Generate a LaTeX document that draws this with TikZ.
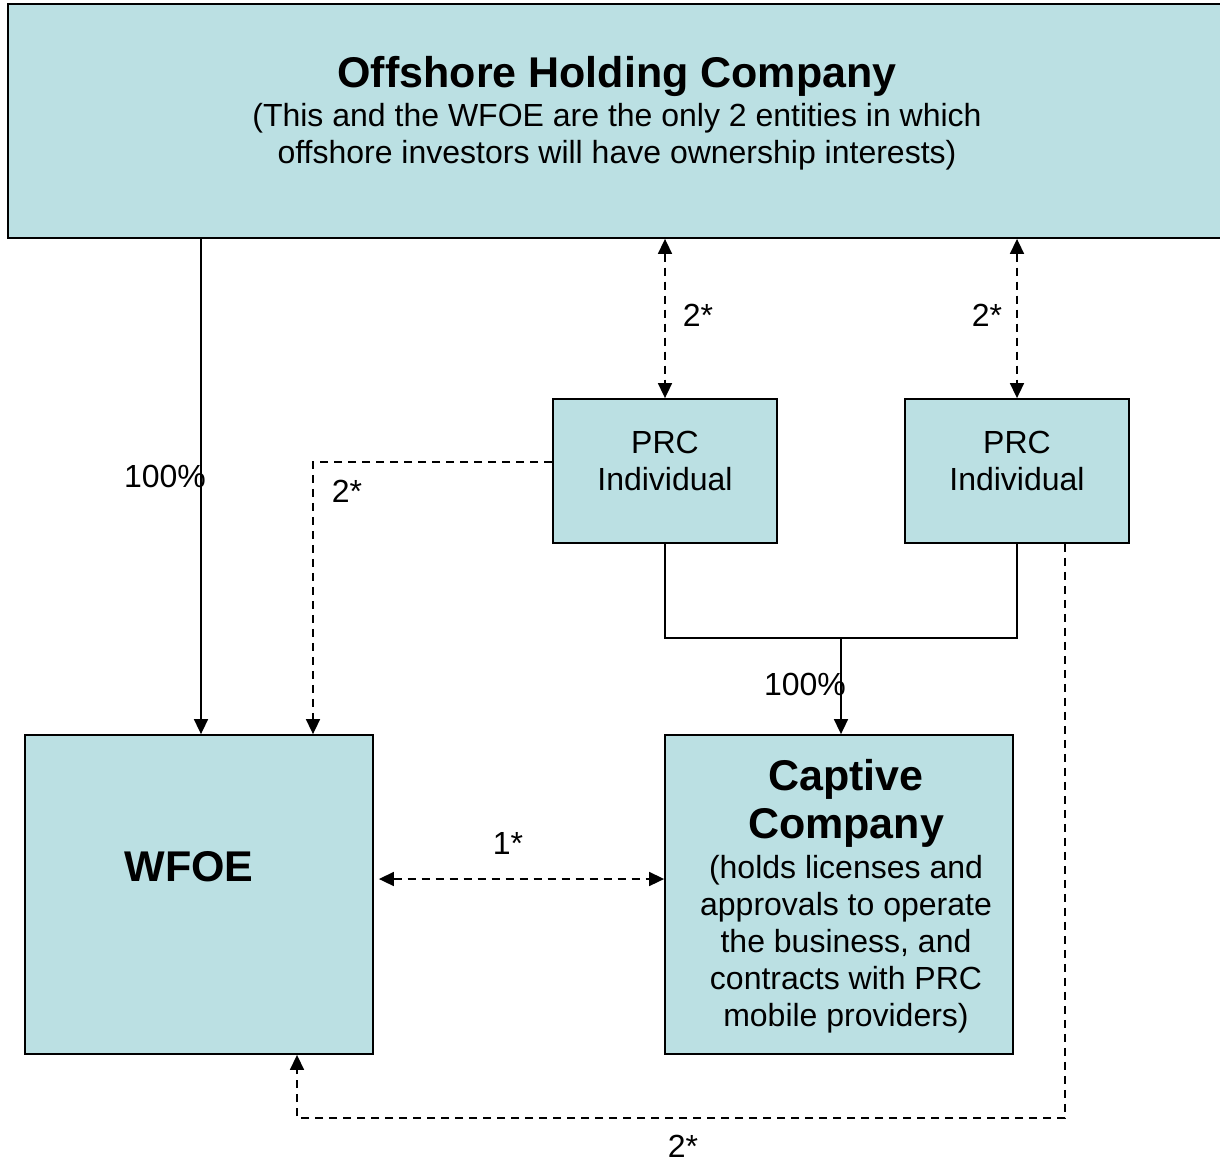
\documentclass[tikz,border=0pt]{standalone}
\usepackage{fontspec}
\setmainfont{Liberation Sans}
\usetikzlibrary{arrows.meta}
\definecolor{boxfill}{RGB}{187,224,227}
\tikzset{
  entity/.style={draw=black, fill=boxfill, line width=1.8pt, rectangle, inner sep=0pt},
  txt/.style={inner sep=0pt, align=center, font=\fontsize{32}{37}\selectfont},
  bigtxt/.style={inner sep=0pt, align=center, font=\fontsize{43}{48}\selectfont\bfseries},
  lbl/.style={inner sep=0pt, anchor=base, font=\fontsize{32}{37}\selectfont},
  solidarrow/.style={line width=1.6pt, -{Triangle[length=15pt,width=14pt]}},
  solidline/.style={line width=1.6pt},
  dashline/.style={line width=1.6pt, dash pattern=on 8pt off 6pt},
  dasharrow/.style={dashline, -{Triangle[length=15pt,width=14pt]}},
  dashboth/.style={dashline, {Triangle[length=15pt,width=14pt]}-{Triangle[length=15pt,width=14pt]}}
}
\begin{document}
\begin{tikzpicture}[x=1pt,y=-1pt]
\useasboundingbox (0,0) rectangle (1220,1163);
% boxes
\node[entity, minimum width=1214pt, minimum height=234pt] (top) at (615,121) {};
\node[entity, minimum width=224pt, minimum height=144pt] (prc1) at (665,471) {};
\node[entity, minimum width=224pt, minimum height=144pt] (prc2) at (1017,471) {};
\node[entity, minimum width=348pt, minimum height=319pt] (wfoe) at (199,894.5) {};
\node[entity, minimum width=348pt, minimum height=319pt] (cap) at (839,894.5) {};
% texts
\node[bigtxt, anchor=base] (toptitle) at (617,87) {Offshore Holding Company};
\node[txt, anchor=north] (topsub) at (617,103) {(This and the WFOE are the only 2 entities in which\\offshore investors will have ownership interests)};
\node[txt, anchor=north] (prc1t) at (665,431) {PRC\\Individual};
\node[txt, anchor=north] (prc2t) at (1017,431) {PRC\\Individual};
\node[bigtxt, anchor=base] (wfoet) at (189,881) {WFOE};
\node[bigtxt, anchor=north] (capt) at (846,759) {Captive\\Company};
\node[txt, anchor=north] (capsub) at (846,855) {(holds licenses and\\approvals to operate\\the business, and\\contracts with PRC\\mobile providers)};
% helper coordinates
\coordinate (x1) at (201,0);
\coordinate (c1) at (313,462);
\coordinate (c2) at (841,638);
\coordinate (c3) at (500,879);
\coordinate (c4) at (1065,1118);
\coordinate (c5) at (297,1118);
% connectors
\draw[solidarrow] (x1 |- top.south) -- (x1 |- wfoe.north);
\draw[dasharrow] (prc1.west |- c1) -- (c1) -- (c1 |- wfoe.north);
\draw[dashboth] (prc1.north |- top.south) -- (prc1.north);
\draw[dashboth] (prc2.north |- top.south) -- (prc2.north);
\draw[solidline] (prc1.south) |- (c2) -| (prc2.south);
\draw[solidarrow] (c2) -- (c2 |- cap.north);
\draw[dashboth, shorten <=5pt] (wfoe.east |- c3) -- (cap.west |- c3);
\draw[dasharrow] (prc2.south -| c4) -- (c4) -- (c5) -- (c5 |- wfoe.south);
% labels
\node[lbl] (l1) at (165,487.5) {100\%};
\node[lbl] (l2) at (347,502) {2*};
\node[lbl] (l3) at (698,326) {2*};
\node[lbl] (l4) at (987,326) {2*};
\node[lbl] (l5) at (805,695.5) {100\%};
\node[lbl] (l6) at (508,854.5) {1*};
\node[lbl] (l7) at (683,1157.5) {2*};
\end{tikzpicture}
\end{document}
